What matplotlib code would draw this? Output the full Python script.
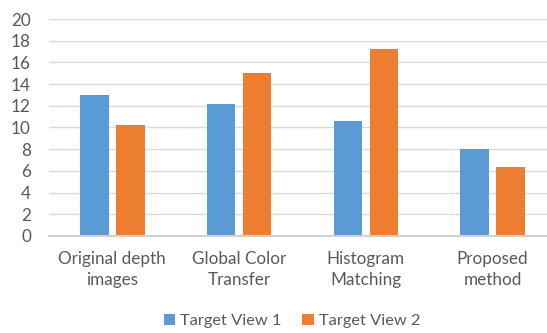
import matplotlib
matplotlib.use("Agg")
import matplotlib.pyplot as plt
import numpy as np

categories = ["Original depth\nimages", "Global Color\nTransfer", "Histogram\nMatching", "Proposed\nmethod"]
series_names = ["Target View 1", "Target View 2"]
view1 = [13.0, 12.2, 10.6, 8.0]
view2 = [10.2, 15.0, 17.2, 6.4]
yticks = [0, 2, 4, 6, 8, 10, 12, 14, 16, 18, 20]

colors = ["#5B9BD5", "#ED7D31"]
text_color = "#595959"
plt.rcParams['font.family'] = ['Lato', 'DejaVu Sans']

W, H = 547, 333
fig = plt.figure(figsize=(W / 100, H / 100), dpi=100)
left, right, bottom, top = 49, 556, 236, 19
ax = fig.add_axes([left / W, (H - bottom) / H, (right - left) / W, (bottom - top) / H])

x = np.arange(len(categories))
bw = 0.223
off = 0.142
ax.bar(x - off, view1, bw, color=colors[0], label=series_names[0], zorder=3)
ax.bar(x + off, view2, bw, color=colors[1], label=series_names[1], zorder=3)

ax.set_xlim(-0.5, len(categories) - 0.5)
ax.set_ylim(0, 20)
ax.set_yticks(yticks)
ax.set_yticklabels([str(v) for v in yticks])
ax.set_xticks(x)
ax.set_xticklabels(categories, linespacing=1.4)

for s in ["top", "right", "left"]:
    ax.spines[s].set_visible(False)
ax.spines["bottom"].set_color("#d0d0d0")
ax.spines["bottom"].set_linewidth(1.5)
ax.spines["bottom"].set_zorder(4)
ax.yaxis.grid(True, color="#d9d9d9", linewidth=1.0, zorder=0)
ax.tick_params(axis="both", length=0, labelsize=12.3, colors=text_color)
ax.tick_params(axis="y", pad=13)
ax.tick_params(axis="x", pad=11)

fig.legend(loc="center", bbox_to_anchor=(292 / W, 1 - 321 / H), ncol=2, frameon=False,
           fontsize=11.8, labelcolor=text_color, handlelength=0.7, handleheight=0.7,
           handletextpad=0.3, columnspacing=1.25)

fig.savefig("out.png", dpi=100)
